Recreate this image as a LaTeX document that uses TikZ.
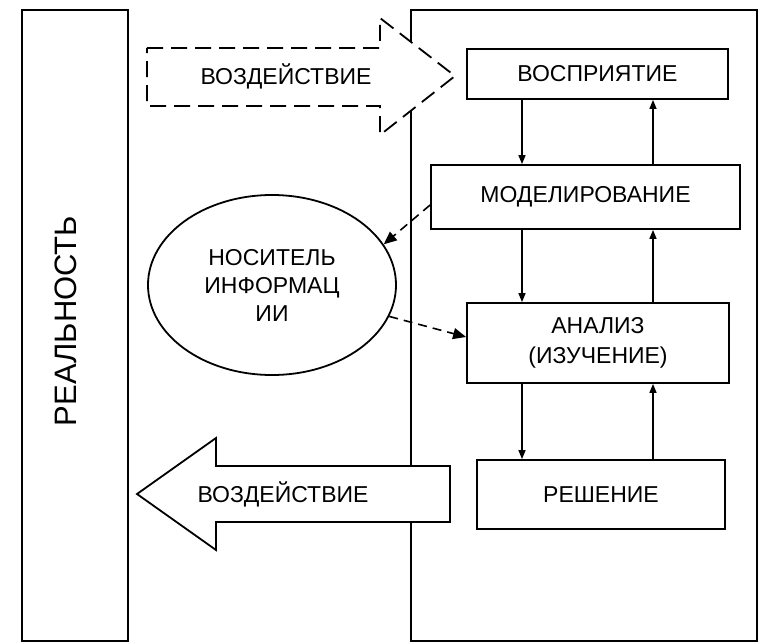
\documentclass[tikz,border=0pt]{standalone}
\usepackage{fontspec}
\setmainfont{Liberation Sans}
\usepackage{tikz}
\usetikzlibrary{shapes.geometric,arrows.meta,positioning,calc}

\begin{document}
\begin{tikzpicture}[x=1pt,y=-1pt,line width=1.8pt,
  stage/.style={rectangle,draw,fill=white,inner sep=0pt,align=center,font=\fontsize{23}{30}\selectfont},
  media/.style={ellipse,draw,inner sep=0pt,minimum width=248pt,minimum height=180pt,align=center,font=\fontsize{23}{28}\selectfont},
  lbl/.style={inner sep=0pt,font=\fontsize{23}{28}\selectfont},
  arr/.style={-{Triangle[length=9pt,width=7pt]},line width=1.4pt},
  darr/.style={-{Triangle[length=13pt,width=11pt]},line width=1.6pt,dash pattern=on 9pt off 6pt},
  bigarr/.style={draw,fill=white,line width=1.8pt}
]
\useasboundingbox (0,0) rectangle (763,642);
% frames
\draw (22,10) rectangle (128,641);
\draw (411,10) rectangle (757,641);
\node[lbl,rotate=90,font=\fontsize{31}{36}\selectfont] (real) at (66,321) {РЕАЛЬНОСТЬ};
% stages
\node[stage,minimum width=261pt,minimum height=50pt] (vos) at (597.5,74) {ВОСПРИЯТИЕ};
\node[stage,minimum width=309pt,minimum height=64pt] (mod) at (585.5,197) {МОДЕЛИРОВАНИЕ};
\node[stage,minimum width=262pt,minimum height=80pt] (an) at (598,343) {АНАЛИЗ\\(ИЗУЧЕНИЕ)};
\node[stage,minimum width=248pt,minimum height=69pt] (res) at (601,494.5) {РЕШЕНИЕ};
\node[media] (carrier) at (272,285) {НОСИТЕЛЬ\\ИНФОРМАЦ\\ИИ};
% block arrows
\draw[bigarr,dash pattern=on 16pt off 8pt] (147,48) -- (380,48) -- (380,18) -- (455,76) -- (380,135) -- (380,106) -- (147,106) -- cycle;
\node[lbl] (inTop) at (286,76) {ВОЗДЕЙСТВИЕ};
\draw[bigarr] (450,466) -- (216,466) -- (216,438) -- (137,494) -- (216,550) -- (216,522) -- (450,522) -- cycle;
\node[lbl] (outBot) at (283,494) {ВОЗДЕЙСТВИЕ};
% links
\coordinate (dn) at (522,0);
\coordinate (up) at (653,0);
\foreach \a/\b in {vos/mod,mod/an,an/res}{
  \draw[arr] (\a.south -| dn) -- (\b.north -| dn);
  \draw[arr] (\b.north -| up) -- (\a.south -| up);
}
\draw[darr] ([yshift=-8pt]mod.west) -- (carrier.20);
\draw[darr] (carrier.-15) -- ([yshift=6pt]an.west);
\end{tikzpicture}
\end{document}
